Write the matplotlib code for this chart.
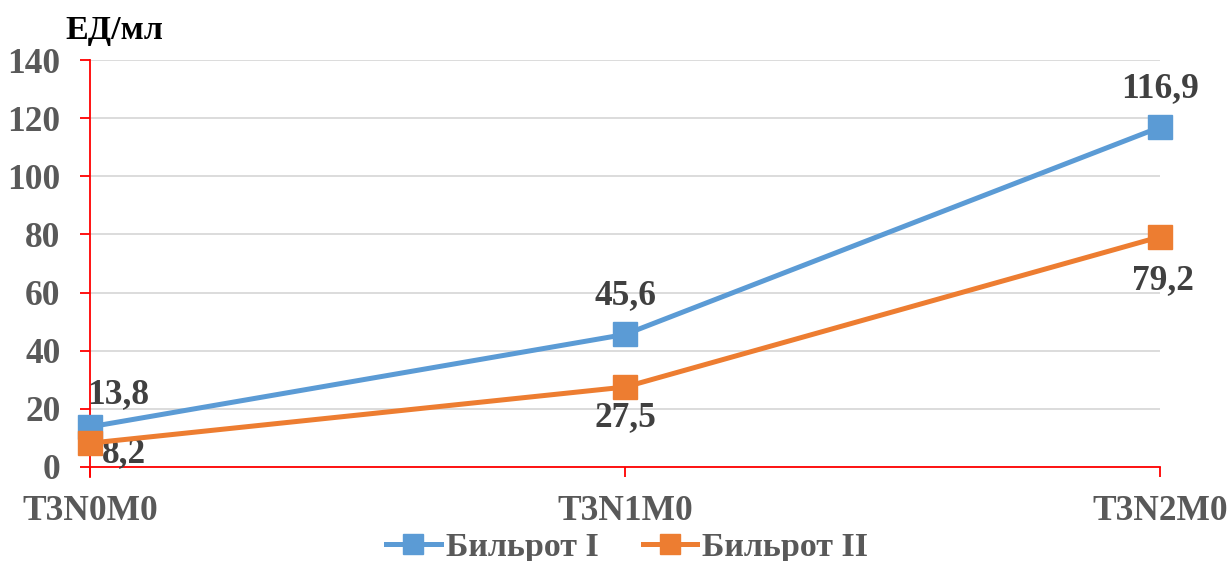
import matplotlib.pyplot as plt
from matplotlib.lines import Line2D

plt.rcParams['font.family'] = ['Liberation Serif', 'DejaVu Serif']
plt.rcParams['font.weight'] = 'bold'

stages = ['T3N0M0', 'T3N1M0', 'T3N2M0']
billroth1 = [13.8, 45.6, 116.9]
billroth2 = [8.2, 27.5, 79.2]
names = ['Бильрот I', 'Бильрот II']
blue = '#5B9BD5'
orange = '#ED7D31'
red = '#FF0000'
grey = '#595959'

# смещения подписей значений (пункты, от точки до базовой линии текста)
off1 = [(20, 17), (0, 22), (0, 21.5)]
off2 = [(24.5, -13.7), (0, -28), (2, -38)]

fig = plt.figure(figsize=(12.3, 5.61), dpi=100)
ax = fig.add_axes([0.0732, 0.1676, 0.8700, 0.7254])

x = list(range(len(stages)))
ax.plot(x, billroth1, color=blue, lw=3.6, marker='s', ms=17, zorder=4,
        solid_capstyle='round', clip_on=False)
ax.plot(x, billroth2, color=orange, lw=3.6, marker='s', ms=17, zorder=5,
        solid_capstyle='round', clip_on=False)

def fmt(v):
    return f'{v:.1f}'.replace('.', ',')

for i, v in enumerate(billroth1):
    ax.annotate(fmt(v), (i, v), xytext=off1[i], textcoords='offset points',
                ha='center', va='baseline', fontsize=25.5, color='#404040')
for i, v in enumerate(billroth2):
    ax.annotate(fmt(v), (i, v), xytext=off2[i], textcoords='offset points',
                ha='center', va='baseline', fontsize=25.5, color='#404040')

ax.set_xlim(0, 2)
ax.set_ylim(0, 140)
ax.set_yticks(range(0, 141, 20))
ax.set_xticks(x)
ax.set_xticklabels(stages)
ax.yaxis.grid(True, color='#D9D9D9', lw=1.3)
ax.set_axisbelow(True)
for s in ['top', 'right']:
    ax.spines[s].set_visible(False)
for s in ['left', 'bottom']:
    ax.spines[s].set_color(red)
    ax.spines[s].set_linewidth(1.3)
ax.spines['left'].set_bounds(-3.5, 140)
ax.tick_params(axis='both', colors=red, length=7.2, width=1.3, labelsize=25.5,
               labelcolor=grey)
ax.tick_params(axis='x', pad=13)
ax.tick_params(axis='y', pad=14)

fig.text(0.053, 0.945, 'ЕД/мл', fontsize=24.5, fontweight='bold', color='black',
         ha='left', va='center')

handles = [Line2D([], [], color=blue, lw=3.6, marker='s', ms=14),
           Line2D([], [], color=orange, lw=3.6, marker='s', ms=14)]
leg = fig.legend(handles, names, loc='center', bbox_to_anchor=(0.510, 0.024),
                 ncol=2, frameon=False, fontsize=24.5, handlelength=1.6,
                 handletextpad=0.15, columnspacing=1.3, borderpad=0)
for t in leg.get_texts():
    t.set_color(grey)

fig.savefig('out.png', dpi=100)
